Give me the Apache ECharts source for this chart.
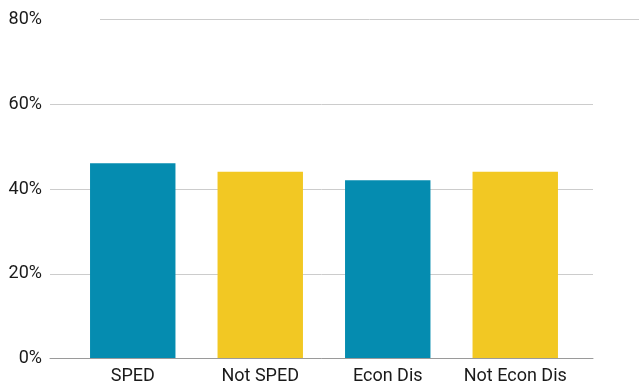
<!DOCTYPE html>
<html>
<head>
<meta charset="utf-8">
<script src="https://cdn.jsdelivr.net/npm/echarts@6/dist/echarts.min.js"></script>
<style>
  html, body { margin: 0; padding: 0; background: #fff; }
  #chart { width: 639px; height: 385px; }
</style>
</head>
<body>
<div id="chart"></div>
<script>
// Share of students by group
const categories = ['SPED', 'Not SPED', 'Econ Dis', 'Not Econ Dis'];
const values = [46, 44, 42, 44];
const barColors = ['#058cb0', '#f2c823', '#058cb0', '#f2c823'];
const yTicks = [0, 20, 40, 60, 80];

const yMin = yTicks[0];
const yMax = yTicks[yTicks.length - 1];
const yStep = yTicks[1] - yTicks[0];
const FONT = 'Roboto, "Noto Sans", sans-serif';
const GRID_LINE = '#cccccc';

const gridTop = 19.5, gridBottom = 26.3;

const chart = echarts.init(document.getElementById('chart'), null, { renderer: 'canvas' });
chart.setOption({
  animation: false,
  backgroundColor: '#ffffff',
  grid: [
    // frame: y labels, gridlines and baseline
    { left: 50, right: 46, top: gridTop, bottom: gridBottom, containLabel: false },
    // bars
    { left: 69, right: 60, top: gridTop, bottom: gridBottom, containLabel: false },
    // top gridline
    { left: 100, right: 0, top: gridTop, bottom: gridBottom, containLabel: false }
  ],
  xAxis: [
    {
      gridIndex: 0, type: 'category', data: categories,
      axisLine: { show: true, lineStyle: { color: '#9a9a9a', width: 1 } },
      axisTick: { show: false }, axisLabel: { show: false }, splitLine: { show: false }
    },
    {
      gridIndex: 1, type: 'category', data: categories,
      axisLine: { show: false }, axisTick: { show: false }, splitLine: { show: false },
      axisLabel: { color: '#1a1a1a', fontFamily: FONT, fontSize: 18, margin: 9,
                   interval: 0, hideOverlap: false }
    },
    {
      gridIndex: 2, type: 'category', data: categories, show: false
    }
  ],
  yAxis: [
    {
      gridIndex: 0, type: 'value', min: yMin, max: yMax, interval: yStep,
      axisLine: { show: false }, axisTick: { show: false },
      axisLabel: { color: '#1a1a1a', fontFamily: FONT, fontSize: 18, margin: 8,
                   formatter: v => v + '%' },
      splitLine: { show: true, lineStyle: { color: yTicks.map(t => t === yMax ? 'transparent' : GRID_LINE), width: 1 } }
    },
    {
      gridIndex: 1, type: 'value', min: yMin, max: yMax, interval: yStep, show: false,
      splitLine: { show: false }
    },
    {
      gridIndex: 2, type: 'value', min: yMin, max: yMax, interval: yStep,
      axisLine: { show: false }, axisTick: { show: false }, axisLabel: { show: false },
      splitLine: { show: true, lineStyle: { color: yTicks.map(t => t === yMax ? GRID_LINE : 'transparent'), width: 1 } }
    }
  ],
  series: [
    {
      type: 'bar',
      xAxisIndex: 1, yAxisIndex: 1,
      barWidth: '67%',
      data: values.map((v, i) => ({ value: v, itemStyle: { color: barColors[i] } })),
      z: 3
    }
  ]
});
</script>
</body>
</html>
